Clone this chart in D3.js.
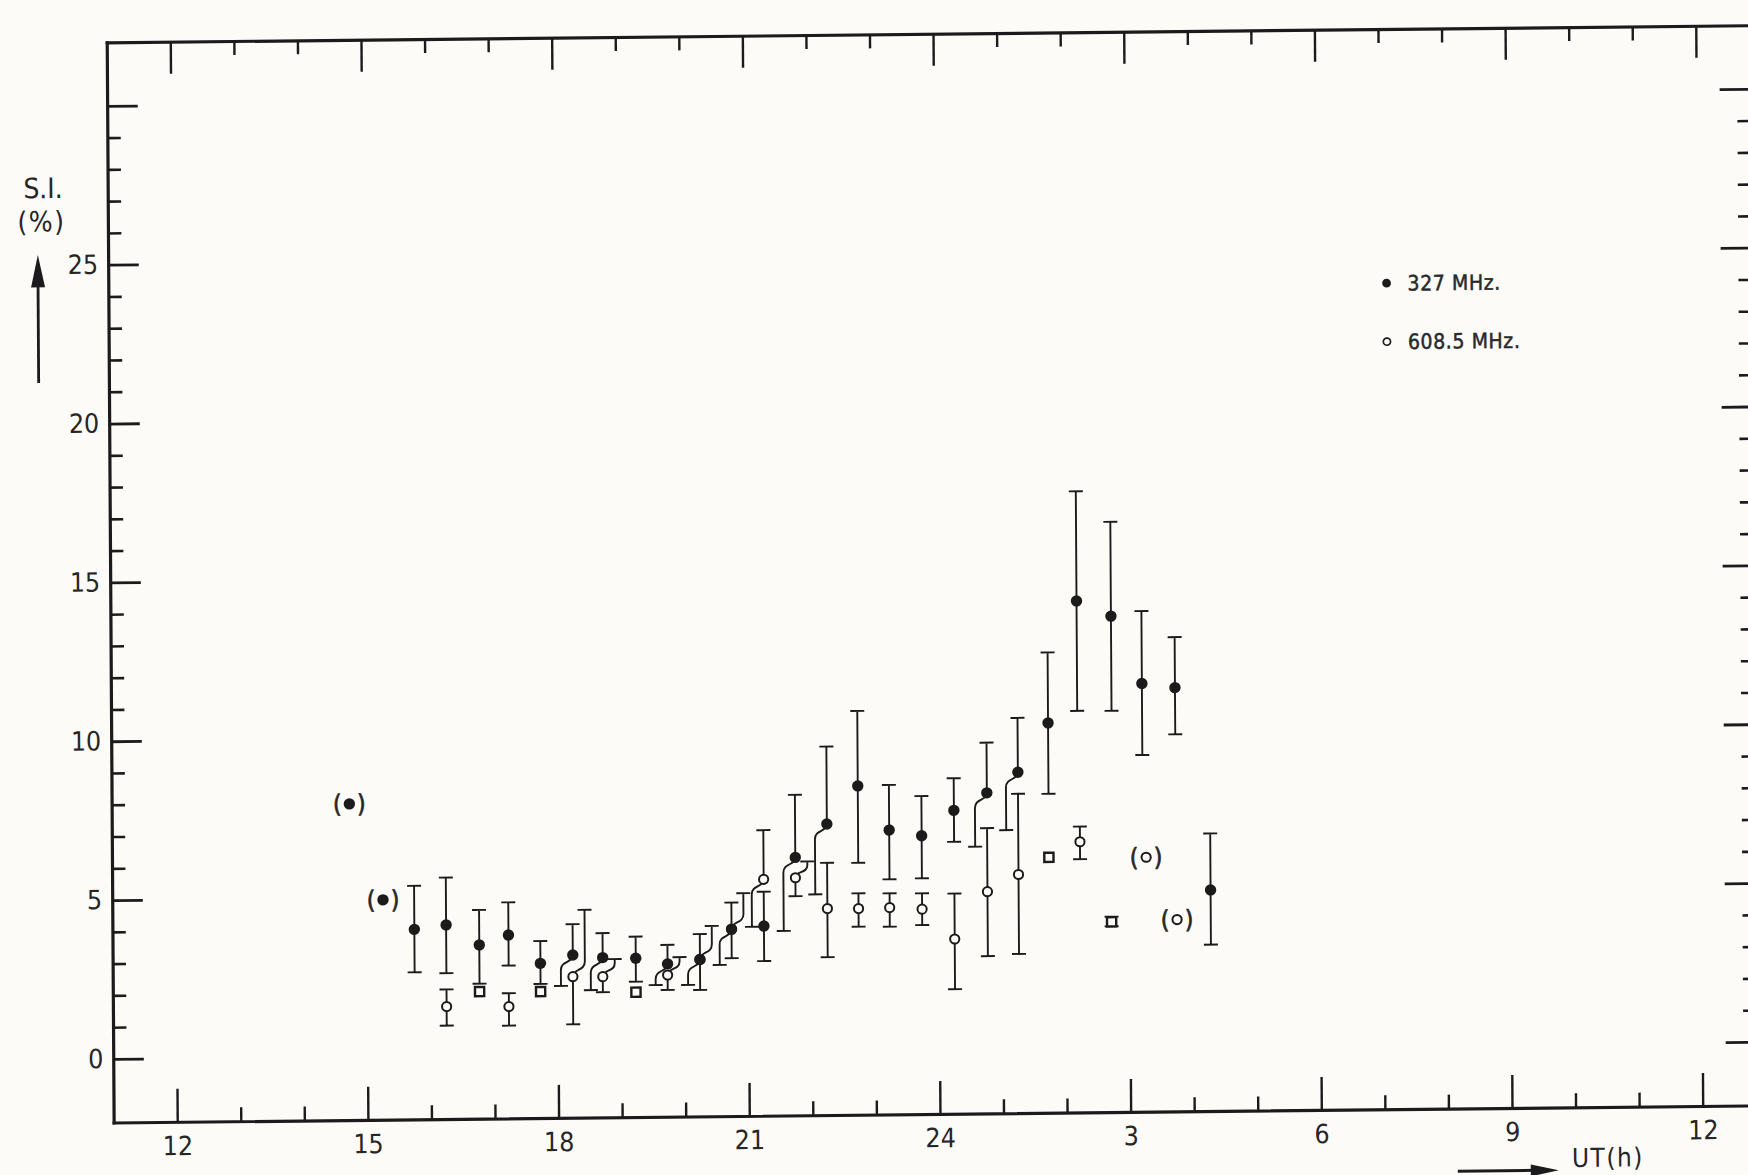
<!DOCTYPE html>
<html>
<head>
<meta charset="utf-8">
<script src="https://cdn.jsdelivr.net/npm/d3@7"></script>
<style>
  html, body { margin: 0; padding: 0; background: #fcfbf8; }
  svg { display: block; }
</style>
</head>
<body>
<svg id="chart" width="1748" height="1175"></svg>
<script>
// ---- 327 MHz scintillation index (filled dots) ----
const hours327 = [14.74, 15.26, 15.75, 16.25, 16.77, 17.23, 17.73, 18.24, 18.71, 19.23, 19.73, 20.24, 20.74, 21.25,
                  21.75, 22.25, 22.74, 23.23, 23.74, 24.25, 24.77, 25.26, 25.74, 26.20, 26.74, 27.22, 27.74, 28.28];
const si327    = [7.95, 4.92, 3.98, 4.11, 3.47, 3.77, 2.87, 3.12, 3.03, 3.00, 2.81, 2.94, 3.88, 3.97,
                  6.12, 7.16, 8.35, 6.95, 6.76, 7.55, 8.09, 8.73, 10.27, 14.10, 13.61, 11.48, 11.34, 4.96];
const lo327    = [null, null, 2.63, 2.59, 2.25, 2.81, 2.22, 2.15, 2.01, 2.26, 2.15, 1.98, 2.97, 2.87,
                  3.81, 4.95, 5.93, 5.40, 5.42, 6.56, 6.40, 6.91, 8.04, 10.64, 10.63, 9.23, 9.87, 3.24];
const hi327    = [null, null, 5.35, 5.60, 4.57, 4.80, 3.57, 4.09, 3.80, 3.68, 3.41, 3.74, 4.72, 5.05,
                  8.09, 9.60, 10.71, 8.37, 8.01, 8.56, 9.67, 10.44, 12.49, 17.55, 16.58, 13.76, 12.93, 6.74];
// side on which a half error bar is shifted where two points overlap (-1 left, +1 right, 0 centred)
const loSide327 = [0, 0, 0, 0, 0, 0, 0, -1, -1, 0, -1, 0, 0, 0, -1, -1, 0, 0, 0, 0, -1, -1, 0, 0, 0, 0, 0, 0];
const hiSide327 = [0, 0, 0, 0, 0, 0, 0, 0, 0, 0, 0, 0, 0, 0, 0, 0, 0, 0, 0, 0, 0, 0, 0, 0, 0, 0, 0, 0];
const bracket327 = [1, 1, 0, 0, 0, 0, 0, 0, 0, 0, 0, 0, 0, 0, 0, 0, 0, 0, 0, 0, 0, 0, 0, 0, 0, 0, 0, 0];

// ---- 608.5 MHz scintillation index (open circles) ----
const hours608 = [16.25, 17.23, 18.24, 18.71, 19.73, 20.24, 20.74, 21.25, 21.75, 22.25, 22.74, 23.23, 23.74,
                  24.25, 24.77, 25.26, 26.23, 27.27, 27.75];
const si608    = [1.54, 1.52, 2.44, 2.43, 2.46, 2.94, 3.88, 5.44, 5.48, 4.50, 4.49, 4.51, 4.45,
                  3.50, 4.98, 5.51, 6.52, 6.01, 4.04];
const lo608    = [0.94, 0.92, 0.94, 1.94, 1.99, 2.14, 2.76, 3.95, 4.90, 2.97, 3.92, 3.91, 3.95,
                  1.92, 2.95, 3.01, 5.97, null, null];
const hi608    = [2.08, 1.94, 4.54, 2.98, 3.02, 3.99, 5.01, 6.99, 5.99, 5.94, 4.97, 4.96, 4.95,
                  4.93, 6.98, 8.05, 7.00, null, null];
const loSide608 = [0, 0, 0, 0, 0, -1, -1, -1, 0, 0, 0, 0, 0, 0, 0, 0, 0, 0, 0];
const hiSide608 = [0, 0, 1, 1, 1, 1, 1, 0, 1, 0, 0, 0, 0, 0, 0, 0, 0, 0, 0];
const bracket608 = [0, 0, 0, 0, 0, 0, 0, 0, 0, 0, 0, 0, 0, 0, 0, 0, 0, 1, 1];

// ---- coincident values (squares) ----
const hoursSq = [16.77, 17.73, 19.23, 25.74, 26.72];
const siSq    = [2.00, 1.98, 1.93, 6.04, 3.99];
const loSq    = [null, null, null, null, 3.85];
const hiSq    = [null, null, null, null, 4.15];

// ---- axis ticks ----
const xMajorTicks = [12, 15, 18, 21, 24, 27, 30, 33, 36];
const xTickLabels = ["12", "15", "18", "21", "24", "3", "6", "9", "12"];
const yMajorTicks = [0, 5, 10, 15, 20, 25, 30];
const yTickLabels = ["0", "5", "10", "15", "20", "25", ""];

const legendItems = ["327 MHz.", "608.5 MHz."];

// ------------------------------------------------------------------
const W = 1748, H = 1175;
const INK = "#1b1b1b", PAPER = "#fcfbf8", FONT = "'DejaVu Sans Condensed', 'DejaVu Sans', sans-serif";

const svg = d3.select("#chart");
svg.append("rect").attr("width", W).attr("height", H).attr("fill", PAPER);

const x = d3.scaleLinear().domain([11, 36.85]).range([113.24, 1756.3]);
const y = d3.scaleLinear().domain([-2, 32]).range([1121.84, 41.66]);

// the plotted sheet sits slightly skewed on the page
const ox = x(12), oy = y(0);
const g = svg.append("g")
  .attr("transform", `translate(${ox},${oy}) matrix(1,-0.0104,0.0064,1,0,0) translate(${-ox},${-oy})`);

const xMinor = d3.range(12, 37).filter(h => !xMajorTicks.includes(h));
const yMinor = d3.range(0, 31).filter(v => !yMajorTicks.includes(v));

function finish(sel, tickW, keepDomain) {
  sel.attr("font-family", FONT).attr("font-size", 26.5);
  if (keepDomain) {
    sel.select(".domain").attr("stroke", INK).attr("stroke-width", 3.2).attr("stroke-linecap", "square");
  } else {
    sel.select(".domain").remove();
  }
  sel.selectAll(".tick line").attr("stroke", INK).attr("stroke-width", tickW);
  sel.selectAll(".tick text").attr("fill", "#262626");
}

// bottom
g.append("g").attr("transform", `translate(0,${y(-2)})`)
  .call(d3.axisBottom(x).tickValues(xMinor).tickSizeInner(-14).tickSizeOuter(0).tickFormat(""))
  .call(s => finish(s, 2.4, false));
g.append("g").attr("transform", `translate(0,${y(-2)})`)
  .call(d3.axisBottom(x).tickValues(xMajorTicks).tickSizeInner(-33).tickSizeOuter(0).tickPadding(14.5)
        .tickFormat((d, i) => xTickLabels[i]))
  .call(s => finish(s, 2.4, true));
// top
g.append("g").attr("transform", `translate(0,${y(32)})`)
  .call(d3.axisTop(x).tickValues(xMinor).tickSizeInner(-14).tickSizeOuter(0).tickFormat(""))
  .call(s => finish(s, 2.4, false));
g.append("g").attr("transform", `translate(0,${y(32)})`)
  .call(d3.axisTop(x).tickValues(xMajorTicks).tickSizeInner(-32).tickSizeOuter(0).tickFormat(""))
  .call(s => finish(s, 2.4, true));
// left
g.append("g").attr("transform", `translate(${x(11)},0)`)
  .call(d3.axisLeft(y).tickValues(yMinor).tickSizeInner(-13.4).tickSizeOuter(0).tickFormat(""))
  .call(s => finish(s, 2.6, false));
g.append("g").attr("transform", `translate(${x(11)},0)`)
  .call(d3.axisLeft(y).tickValues(yMajorTicks).tickSizeInner(-30.6).tickSizeOuter(0).tickPadding(10)
        .tickFormat((d, i) => yTickLabels[i]))
  .call(s => finish(s, 2.8, true));
// right
g.append("g").attr("transform", `translate(${x(36.85)},0)`)
  .call(d3.axisRight(y).tickValues(yMinor).tickSizeInner(-13).tickSizeOuter(0).tickFormat(""))
  .call(s => finish(s, 2.6, false));
g.append("g").attr("transform", `translate(${x(36.85)},0)`)
  .call(d3.axisRight(y).tickValues(yMajorTicks).tickSizeInner(-30.6).tickSizeOuter(0).tickFormat(""))
  .call(s => finish(s, 2.8, true));

// axis titles
g.append("text").attr("x", 48.6).attr("y", 186.7).attr("dy", "0.36em").attr("text-anchor", "middle")
  .attr("font-family", FONT).attr("font-size", 28).attr("fill", "#262626").text("S.I.");
g.append("text").attr("x", 46.8).attr("y", 220).attr("dy", "0.36em").attr("text-anchor", "middle")
  .attr("font-family", FONT).attr("font-size", 28).attr("letter-spacing", 1.5).attr("fill", "#262626").text("(%)");
g.append("line").attr("x1", 43).attr("x2", 43).attr("y1", 381.6).attr("y2", 280)
  .attr("stroke", INK).attr("stroke-width", 2.8);
g.append("path").attr("d", "M43,253.6L50,286L36,286Z").attr("fill", INK);

g.append("text").attr("x", 1571.2).attr("y", 1181.5).attr("font-family", FONT).attr("font-size", 26)
  .attr("letter-spacing", 1.5).attr("fill", "#262626").text("UT(h)");
g.append("line").attr("x1", 1457).attr("x2", 1535).attr("y1", 1184.5).attr("y2", 1184.5)
  .attr("stroke", INK).attr("stroke-width", 3);
g.append("path").attr("d", "M1558,1184.5L1530,1178.5L1530,1190.5Z").attr("fill", INK);

// ---- data marks ----
function rows(hs, vs, los, his, loS, hiS, br) {
  return hs.map((h, i) => ({
    h, v: vs[i], lo: los ? los[i] : null, hi: his ? his[i] : null,
    loSide: loS ? loS[i] : 0, hiSide: hiS ? hiS[i] : 0, bracket: br ? br[i] : 0
  }));
}
const set327 = rows(hours327, si327, lo327, hi327, loSide327, hiSide327, bracket327);
const set608 = rows(hours608, si608, lo608, hi608, loSide608, hiSide608, bracket608);
const setSq = rows(hoursSq, siSq, loSq, hiSq, null, null, null);

const OFF = 12, CAP = 7, HOOK = 15;
function halfBar(cx, cy, yEnd, side) {
  const dir = yEnd < cy ? -1 : 1;
  if (!side) return `M${cx},${cy}V${yEnd}M${cx - CAP},${yEnd}H${cx + CAP}`;
  const bx = cx + side * OFF;
  const k = Math.min(HOOK, Math.abs(yEnd - cy) * 0.75);
  return `M${cx},${cy}C${cx},${cy + dir * k * 0.55} ${bx},${cy + dir * k * 0.35} ${bx},${cy + dir * k}` +
         `V${yEnd}M${bx - CAP},${yEnd}H${bx + CAP}`;
}
function barD(d) {
  const cx = x(d.h), cy = y(d.v);
  let p = "";
  if (d.hi != null) p += halfBar(cx, cy, y(d.hi), d.hiSide);
  if (d.lo != null) p += halfBar(cx, cy, y(d.lo), d.loSide);
  return p;
}

const bars = g.append("g").attr("fill", "none").attr("stroke", INK).attr("stroke-width", 1.9);
[set608, setSq, set327].forEach(set => {
  bars.selectAll(null).data(set.filter(d => d.hi != null || d.lo != null)).enter()
    .append("path").attr("d", barD);
});

// squares
g.selectAll(null).data(setSq).enter().append("rect")
  .attr("x", d => x(d.h) - 4.6).attr("y", d => y(d.v) - 4.6).attr("width", 9.2).attr("height", 9.2)
  .attr("fill", PAPER).attr("stroke", INK).attr("stroke-width", 2.4);
// open circles
g.selectAll(null).data(set608).enter().append("circle")
  .attr("cx", d => x(d.h)).attr("cy", d => y(d.v)).attr("r", 4.6)
  .attr("fill", PAPER).attr("stroke", INK).attr("stroke-width", 2);
// filled dots
g.selectAll(null).data(set327).enter().append("circle")
  .attr("cx", d => x(d.h)).attr("cy", d => y(d.v)).attr("r", 5.7).attr("fill", INK);

// bracketed (uncertain) values
const bracketed = set327.concat(set608).filter(d => d.bracket);
["(", ")"].forEach((ch, j) => {
  g.selectAll(null).data(bracketed).enter().append("text")
    .attr("x", d => x(d.h) + (j ? 12 : -12)).attr("y", d => y(d.v)).attr("dy", "0.34em")
    .attr("text-anchor", "middle").attr("font-family", FONT).attr("font-size", 25)
    .attr("stroke", "#262626").attr("stroke-width", 0.6)
    .attr("fill", "#262626").text(ch);
});

// ---- legend ----
const lgX = x(31.11), lgY = [y(24.0), y(22.16)];
g.append("circle").attr("cx", lgX).attr("cy", lgY[0]).attr("r", 4.4).attr("fill", INK);
g.append("circle").attr("cx", lgX).attr("cy", lgY[1]).attr("r", 3.6)
  .attr("fill", PAPER).attr("stroke", INK).attr("stroke-width", 1.7);
legendItems.forEach((t, i) => {
  g.append("text").attr("x", lgX + 21).attr("y", lgY[i]).attr("dy", "0.36em")
    .attr("font-family", FONT).attr("font-size", 21).attr("letter-spacing", 0.6)
    .attr("stroke", "#2a2a2a").attr("stroke-width", 0.5)
    .attr("fill", "#2a2a2a").text(t);
});
</script>
</body>
</html>
